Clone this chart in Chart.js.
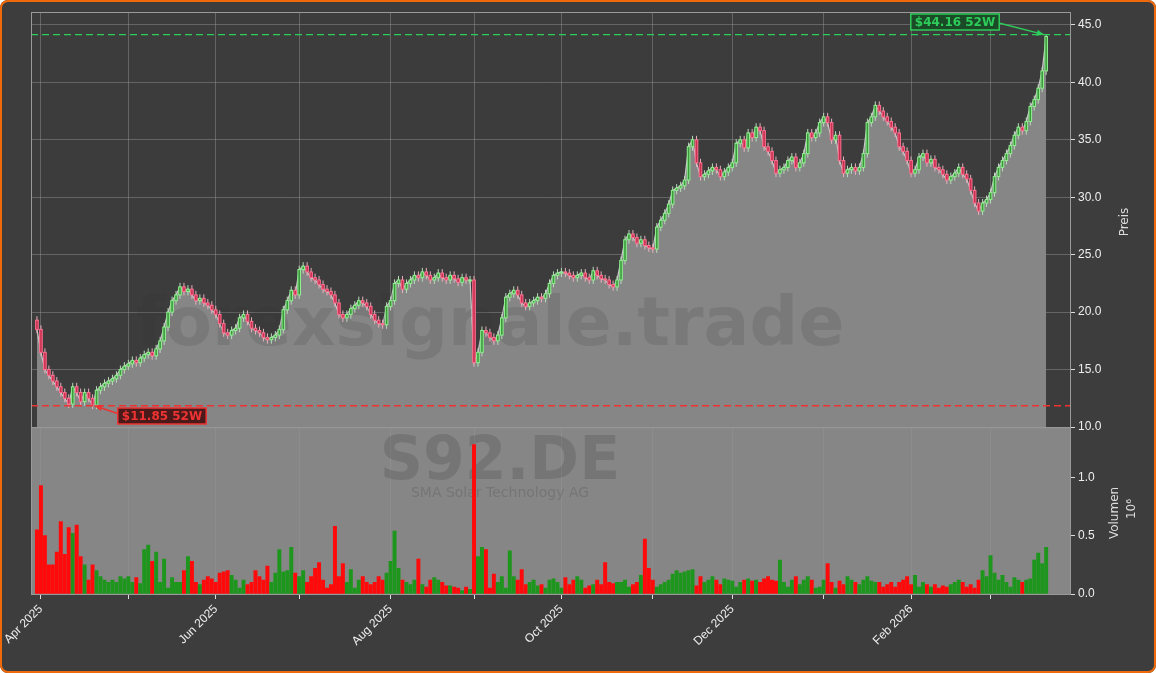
<!DOCTYPE html>
<html><head><meta charset="utf-8">
<script src="https://cdn.jsdelivr.net/npm/chart.js@4"></script>
<style>
body{margin:0;background:#fff;width:1156px;height:673px;overflow:hidden;font-family:"DejaVu Sans",sans-serif}
#wrap{position:absolute;left:0;top:0;width:1156px;height:673px;background:#3d3d3d;border-radius:8px;overflow:hidden}
#frame{position:absolute;left:0;top:0;width:1152px;height:669px;border:2px solid #f06a0c;border-radius:8px;pointer-events:none}
#c1{position:absolute;left:0;top:0}
#c2{position:absolute;left:0;top:417px}
</style></head><body>
<div id="wrap"><canvas id="c1" width="1156" height="440"></canvas><canvas id="c2" width="1156" height="256"></canvas></div>
<div id="frame"></div>
<script>
const closes=[18.5,
16.5,15,14.5,14,13.5,13,12.5,12,13.5,13,12.2,13,12.5,11.9,13.2,13.5,13.8,14,14.2,14.5,15,15.3,
15.5,15.8,15.6,16,16.3,16.5,16.2,16.8,17.5,18.7,20,21,21.5,22.2,21.8,22,21.5,21,21.2,20.8,20.6,20.2,
19.8,19,18.2,18,18.4,18.6,19.5,19.8,19.2,18.6,18.4,18.2,17.8,17.6,17.8,18,18.5,20.2,21,21.9,21.5,
23.7,24,23.5,23,22.8,22.4,22,21.8,21.5,20.8,19.8,19.5,19.8,20.3,20.6,21,20.8,20.5,19.8,19.3,19,18.9,20.5,
21,22.5,22.8,22,22.5,22.8,23.2,23,23.5,23.2,22.8,23,23.4,23,22.8,23.2,22.9,22.6,23,22.8,22.8,
15.6,16.5,18.4,18.2,17.8,17.5,18,19.5,21.3,21.6,21.9,21.5,20.8,20.5,20.8,21,21.3,21.2,21.6,22.5,23.2,23.4,
23.5,23.4,23.2,23,23.2,23.4,23,22.8,23.6,23.2,22.9,22.8,22.4,22.2,22.8,24.5,26.3,26.8,26.5,26,26.3,25.8,25.6,
25.5,27.4,28,28.6,29.4,30.6,30.8,31,31.5,34.4,35,33,31.8,32,32.3,32.6,32.4,31.8,32.2,32.6,
33,34.7,35,34.3,35.6,35.2,36.1,35.8,34.4,34,33.2,32.1,32.4,32.6,33.2,33.5,32.6,33,33.8,35.6,35.2,
35.6,36.5,37,36.5,35,35.4,33.2,32.1,32.4,32.6,32.3,32.6,33.8,36.5,37,38,37.5,37,36.6,36.1,35.6,
34.4,34,33.2,32.1,32.4,33.5,33.8,33,33.3,32.6,32.4,32,31.5,31.8,32.1,32.6,32,31.6,30.6,29.5,
28.8,29.5,29.8,30.4,31.8,32.6,33.2,33.8,34.5,35.4,36.1,35.8,36.6,37.9,38.5,39.5,41,44];
const volumes=[0.55,0.93,0.5,0.25,0.25,0.36,0.62,0.34,0.57,0.52,0.59,0.32,0.25,0.12,0.25,0.2,0.15,0.12,0.1,0.12,0.1,0.15,0.13,
0.15,0.1,0.14,0.09,0.38,0.42,0.28,0.36,0.1,0.3,0.05,0.14,0.1,0.1,0.2,0.32,0.28,0.1,0.08,0.12,0.15,0.13,
0.1,0.18,0.19,0.2,0.16,0.12,0.05,0.12,0.08,0.1,0.2,0.15,0.12,0.24,0.1,0.18,0.38,0.19,0.2,0.4,0.18,
0.15,0.2,0.1,0.15,0.22,0.27,0.12,0.05,0.08,0.58,0.15,0.26,0.1,0.21,0.05,0.12,0.15,0.1,0.08,0.1,0.15,0.12,0.18,
0.28,0.54,0.22,0.12,0.1,0.08,0.12,0.3,0.08,0.06,0.12,0.14,0.12,0.1,0.07,0.07,0.06,0.05,0.03,0.06,0.04,
1.28,0.32,0.4,0.38,0.05,0.17,0.1,0.15,0.05,0.37,0.15,0.12,0.21,0.08,0.1,0.12,0.07,0.08,0.05,0.12,0.13,0.1,
0.05,0.14,0.08,0.12,0.15,0.12,0.05,0.07,0.08,0.12,0.08,0.27,0.1,0.09,0.1,0.1,0.12,0.06,0.08,0.1,0.16,0.47,0.22,
0.12,0.06,0.08,0.1,0.12,0.17,0.2,0.18,0.19,0.2,0.21,0.07,0.15,0.1,0.12,0.15,0.12,0.08,0.13,0.12,
0.11,0.06,0.1,0.12,0.13,0.11,0.12,0.1,0.13,0.15,0.12,0.11,0.29,0.1,0.06,0.12,0.15,0.08,0.12,0.15,0.12,
0.05,0.06,0.12,0.26,0.1,0.05,0.11,0.08,0.15,0.12,0.1,0.08,0.12,0.15,0.11,0.1,0.1,0.06,0.08,0.1,0.06,
0.1,0.12,0.15,0.08,0.16,0.06,0.1,0.08,0.06,0.08,0.05,0.07,0.06,0.08,0.1,0.12,0.1,0.06,0.08,0.05,
0.12,0.2,0.15,0.33,0.18,0.12,0.16,0.1,0.06,0.14,0.12,0.1,0.12,0.13,0.29,0.35,0.26,0.4];
const priceTicks=[10,15,20,25,30,35,40,45];
const volTicks=[0,0.5,1.0];
const high52=44.16, low52=11.85;
const monthNames=['Jan','Feb','Mar','Apr','May','Jun','Jul','Aug','Sep','Oct','Nov','Dec'];

const dates=[];{let d=new Date(Date.UTC(2025,2,31));while(dates.length<closes.length){const w=d.getUTCDay();if(w!==0&&w!==6)dates.push(new Date(d));d=new Date(d.getTime()+86400000);}}
const opens=closes.map((c,i)=>i?closes[i-1]:c+0.8);
const highs=closes.map((c,i)=>Math.max(c,opens[i])+0.35);
const lows=closes.map((c,i)=>Math.min(c,opens[i])-0.35);
highs[highs.length-1]=high52;
const monthTicks=[];dates.forEach((d,i)=>{if(i>0&&d.getUTCMonth()!==dates[i-1].getUTCMonth())monthTicks.push({i,m:d.getUTCMonth(),y:d.getUTCFullYear()});});
const xmin=-1.5,xmax=260;
const idx=closes.map((_,i)=>i);

const xScaleBase=(show)=>({type:'linear',min:xmin,max:xmax,offset:false,
  afterBuildTicks:s=>{s.ticks=monthTicks.map(t=>({value:t.i}));},
  grid:{offset:false,color:'rgba(150,150,150,0.45)',drawTicks:show,tickLength:5,tickColor:'#ddd'},border:{display:false},
  ticks:{display:show,color:'#eee',font:{size:12},maxRotation:45,minRotation:45,autoSkip:false,
    callback:v=>{const t=monthTicks.find(t=>t.i===v);return t&&t.m%2===1?monthNames[t.m]+' '+t.y:'';}},
  afterFit:s=>{s.height=show?79:0;}});

const bgPlugin=(color)=>({id:'bg',beforeDraw(ch){const a=ch.chartArea,c=ch.ctx;c.save();c.fillStyle=color;c.fillRect(a.left,a.top,a.right-a.left,a.bottom-a.top);c.restore();},
  afterDraw(ch){const a=ch.chartArea,c=ch.ctx;c.save();c.strokeStyle='#999';c.lineWidth=1;c.strokeRect(a.left+0.5,a.top+0.5,a.right-a.left,a.bottom-a.top);c.restore();}});

const vtext=(c,txt,x,y)=>{c.save();c.translate(x,y);c.rotate(-Math.PI/2);c.fillStyle='#ddd';c.font='12px "DejaVu Sans"';c.textAlign='center';c.textBaseline='middle';c.fillText(txt,0,0);c.restore();};

const candlePlugin={id:'candles',afterDatasetsDraw(ch){
  const x=ch.scales.x,y=ch.scales.y,c=ch.ctx;c.save();
  const w=2.6;
  closes.forEach((cl,i)=>{const px=x.getPixelForValue(i),up=cl>=opens[i];
    c.strokeStyle=up?'#b8dcb8':'#e8b0bc';c.lineWidth=1;
    c.beginPath();c.moveTo(px,y.getPixelForValue(highs[i]));c.lineTo(px,y.getPixelForValue(lows[i]));c.stroke();
    const t=y.getPixelForValue(Math.max(cl,opens[i])),b=y.getPixelForValue(Math.min(cl,opens[i]));
    c.fillStyle=up?'#3a9a3a':'#c83050';c.strokeStyle=up?'#90ee90':'#ff7090';
    c.fillRect(px-w/2,t,w,Math.max(1,b-t));c.strokeRect(px-w/2,t,w,Math.max(1,b-t));});
  [[high52,'#2ecc5a'],[low52,'#ee3333']].forEach(([v,col])=>{const py=y.getPixelForValue(v);c.strokeStyle=col;c.setLineDash([7,4]);c.lineWidth=1.3;c.beginPath();c.moveTo(ch.chartArea.left,py);c.lineTo(ch.chartArea.right,py);c.stroke();});
  c.setLineDash([]);
  const drawLbl=(txt,bx,by,fg,bg,sx,tx,ty)=>{c.font='bold 12px "DejaVu Sans"';const tw=c.measureText(txt).width;
    c.strokeStyle=fg;c.lineWidth=1.5;c.beginPath();c.moveTo(sx,by);c.lineTo(tx,ty);c.stroke();
    const ang=Math.atan2(ty-by,tx-sx);c.fillStyle=fg;c.beginPath();c.moveTo(tx,ty);c.lineTo(tx-8*Math.cos(ang-0.4),ty-8*Math.sin(ang-0.4));c.lineTo(tx-8*Math.cos(ang+0.4),ty-8*Math.sin(ang+0.4));c.closePath();c.fill();
    c.fillStyle=bg;c.fillRect(bx-tw/2-4,by-8,tw+8,16);c.strokeRect(bx-tw/2-4,by-8,tw+8,16);
    c.fillStyle=fg;c.textAlign='center';c.textBaseline='middle';c.fillText(txt,bx,by+1);};
  const li=closes.length-1, mi=closes.indexOf(Math.min(...closes));
  drawLbl('$44.16 52W',955,22,'#2ecc5a','#1a4a26',995,x.getPixelForValue(li)-2,y.getPixelForValue(high52));
  drawLbl('$11.85 52W',162,416,'#ee3333','#4a1a1a',125,x.getPixelForValue(mi)+2,y.getPixelForValue(low52));
  c.restore();},
  afterDraw(ch){vtext(ch.ctx,'Preis',1125,222);}};

const wmPlugin={id:'wm',afterDatasetsDraw(ch){const c=ch.ctx;c.save();c.fillStyle='rgba(50,50,50,0.15)';c.font='bold 68px "DejaVu Sans"';c.textAlign='center';c.textBaseline='middle';c.fillText('forexsignale.trade',490,327);c.restore();}};
const wm2Plugin={id:'wm2',beforeDatasetsDraw(ch){const c=ch.ctx;c.save();c.fillStyle='rgba(60,60,60,0.22)';c.textAlign='center';c.textBaseline='middle';c.font='bold 60px "DejaVu Sans"';c.fillText('S92.DE',500,46);c.font='14px "DejaVu Sans"';c.fillText('SMA Solar Technology AG',500,76);c.restore();},
  afterDraw(ch){vtext(ch.ctx,'Volumen',1115,96);vtext(ch.ctx,'10⁶',1132,92);}};

new Chart(document.getElementById('c1'),{type:'line',
  data:{labels:idx,datasets:[{data:closes.map((v,i)=>({x:i,y:v})),borderColor:'#c8c8c8',borderWidth:1.2,pointRadius:0,fill:'start',backgroundColor:'#868686',tension:0}]},
  options:{animation:false,responsive:false,layout:{padding:{left:31,right:26,top:12,bottom:13}},
    plugins:{legend:{display:false},tooltip:{enabled:false}},
    scales:{x:xScaleBase(false),
      y:{position:'right',min:10,max:46.13,afterBuildTicks:s=>{s.ticks=priceTicks.map(v=>({value:v}));},
        afterFit:s=>{s.width=60;},grid:{color:'rgba(150,150,150,0.45)',tickColor:'#ddd',tickLength:5},border:{display:false},
        ticks:{color:'#eee',font:{size:12},callback:v=>v.toFixed(1)}}}},
  plugins:[bgPlugin('#3c3c3c'),wmPlugin,candlePlugin]});

new Chart(document.getElementById('c2'),{type:'bar',
  data:{labels:idx,datasets:[{data:volumes.map((v,i)=>({x:i,y:v})),backgroundColor:volumes.map((v,i)=>closes[i]>=opens[i]?'#1e961e':'#ff0a0a'),barThickness:3.3}]},
  options:{animation:false,responsive:false,layout:{padding:{left:31,right:26,top:10,bottom:0}},
    plugins:{legend:{display:false},tooltip:{enabled:false}},
    scales:{x:xScaleBase(true),
      y:{position:'right',min:0,max:1.43,afterBuildTicks:s=>{s.ticks=volTicks.map(v=>({value:v}));},
        afterFit:s=>{s.width=60;},grid:{drawOnChartArea:false,tickColor:'#ddd',tickLength:5},border:{display:false},
        ticks:{color:'#eee',font:{size:12},callback:v=>v.toFixed(1)}}}},
  plugins:[bgPlugin('#868686'),wm2Plugin]});
</script></body></html>
